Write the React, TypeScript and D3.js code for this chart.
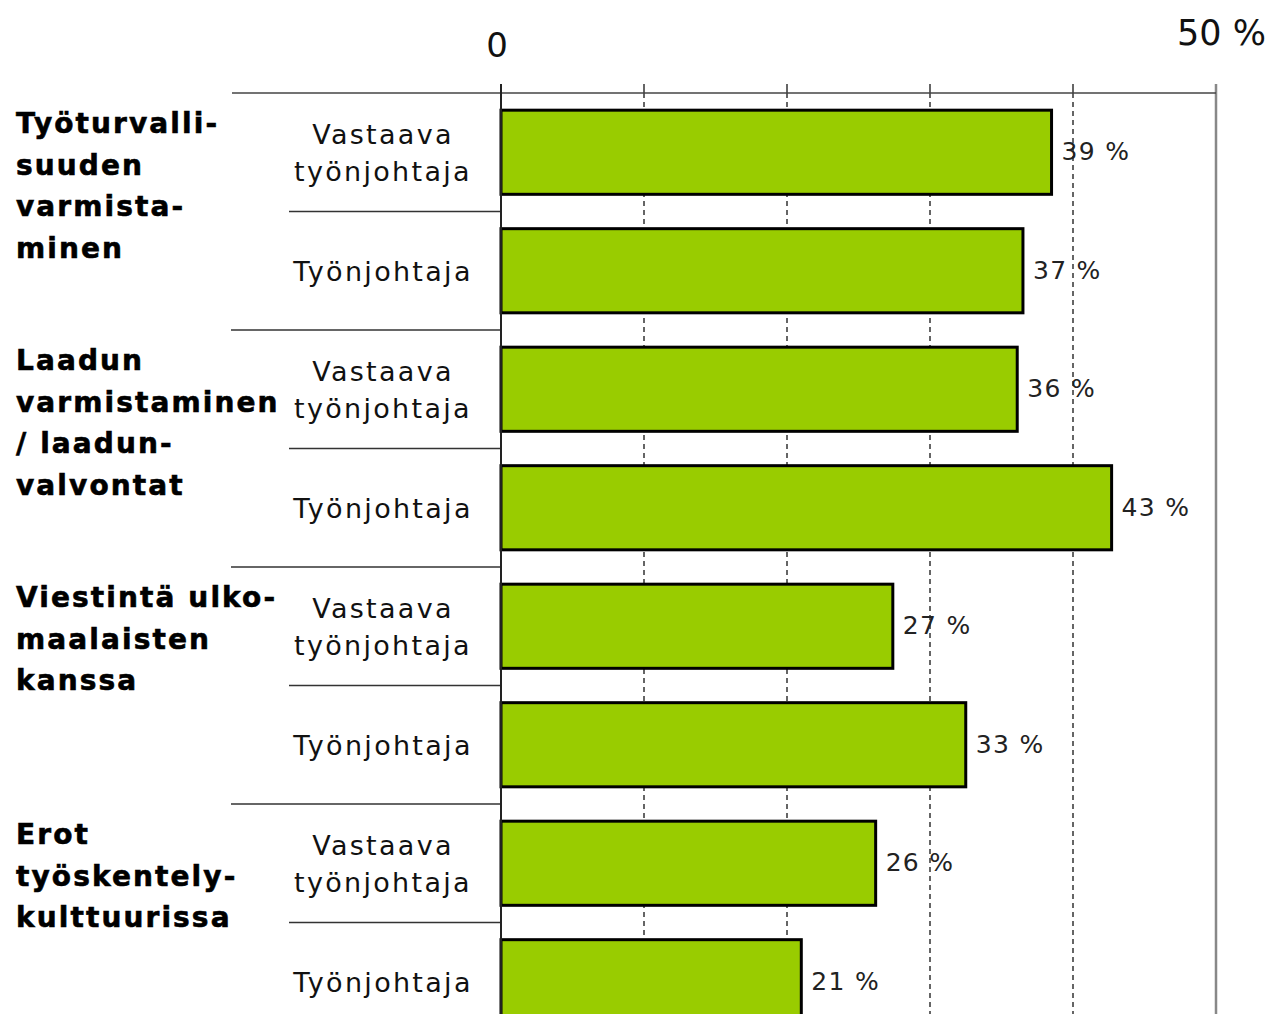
import React from "react";
import * as d3 from "d3";

const categories: string[][] = [
  ["Työturvalli-", "suuden", "varmista-", "minen"],
  ["Laadun", "varmistaminen", "/ laadun-", "valvontat"],
  ["Viestintä ulko-", "maalaisten", "kanssa"],
  ["Erot", "työskentely-", "kulttuurissa"],
];
const subLabels: string[][] = [["Vastaava", "työnjohtaja"], ["Työnjohtaja"]];
const values: number[] = [38.5, 36.5, 36.1, 42.7, 27.4, 32.5, 26.2, 21.0];
const xTicks: number[] = [0, 10, 20, 30, 40, 50];

const W = 1266;
const H = 1014;
const FONT = "Verdana, 'DejaVu Sans', sans-serif";

export default function App() {
  const x = d3.scaleLinear().domain([0, 50]).range([501, 1216]);
  const rowIds = values.map((_, i) => i);
  const rowTop = 93;
  const rowStep = 118.5;
  const y = d3
    .scaleBand<number>()
    .domain(rowIds)
    .range([rowTop, rowTop + rowStep * values.length])
    .paddingInner(0.29)
    .paddingOuter(0.145);
  const step = y.step();
  const rowStart = (i: number) => (y(i) as number) - y.paddingInner() * step / 2;

  return (
    <svg
      width={W}
      height={H}
      style={{ position: "absolute", left: 0, top: 0, background: "#fff" }}
      fontFamily={FONT}
    >
      {/* axis labels */}
      <text x={x(0) - 4} y={57} fontSize={34} textAnchor="middle" fill="#111">0</text>
      <text x={1266} y={45} fontSize={35} textAnchor="end" fill="#111">50 %</text>

      {/* gridlines */}
      {xTicks.slice(1, -1).map((t) => (
        <g key={t}>
          <line x1={x(t)} x2={x(t)} y1={84} y2={93} stroke="#333" strokeWidth={1.5} />
          <line x1={x(t)} x2={x(t)} y1={93} y2={H} stroke="#333" strokeWidth={1.5} strokeDasharray="5,4" />
        </g>
      ))}
      {/* right border */}
      <line x1={x(50)} x2={x(50)} y1={84} y2={H} stroke="#888" strokeWidth={2.5} />
      {/* top axis line */}
      <line x1={232} x2={x(50)} y1={93} y2={93} stroke="#444" strokeWidth={1.5} />

      {/* separators */}
      {rowIds.slice(1).map((i) => (
        <line
          key={i}
          x1={i % 2 === 0 ? 231 : 289}
          x2={x(0)}
          y1={rowStart(i)}
          y2={rowStart(i)}
          stroke="#333"
          strokeWidth={1.5}
        />
      ))}

      {/* bars */}
      {values.map((v, i) => (
        <g key={i}>
          <rect
            x={x(0)}
            y={y(i)}
            width={x(v) - x(0)}
            height={y.bandwidth()}
            fill="#99cc00"
            stroke="#000"
            strokeWidth={3}
          />
          <text
            x={x(v) + 10}
            y={(y(i) as number) + y.bandwidth() / 2 + 8}
            fontSize={25}
            fill="#222"
            letterSpacing={1.3}
          >
            {`${Math.round(v)} %`}
          </text>
        </g>
      ))}

      {/* left axis */}
      <line x1={x(0)} x2={x(0)} y1={84} y2={H} stroke="#222" strokeWidth={2} />

      {/* sub labels */}
      {rowIds.map((i) => {
        const lines = subLabels[i % 2];
        const cy = rowStart(i) + step / 2;
        const lh = 37;
        const first = cy - ((lines.length - 1) * lh) / 2 + 10;
        return (
          <text key={i} x={383} fontSize={27} textAnchor="middle" fill="#111" letterSpacing={2.3}>
            {lines.map((l, k) => (
              <tspan key={k} x={383} y={first + k * lh}>{l}</tspan>
            ))}
          </text>
        );
      })}

      {/* category labels */}
      {categories.map((lines, g) => {
        const top = rowStart(g * 2);
        return (
          <text
            key={g}
            x={16}
            fontSize={28}
            fontWeight="bold"
            fill="#000"
            stroke="#000"
            strokeWidth={0.6}
            letterSpacing={2.1}
          >
            {lines.map((l, k) => (
              <tspan key={k} x={16} y={top + 40 + k * 41.5}>{l}</tspan>
            ))}
          </text>
        );
      })}
    </svg>
  );
}
